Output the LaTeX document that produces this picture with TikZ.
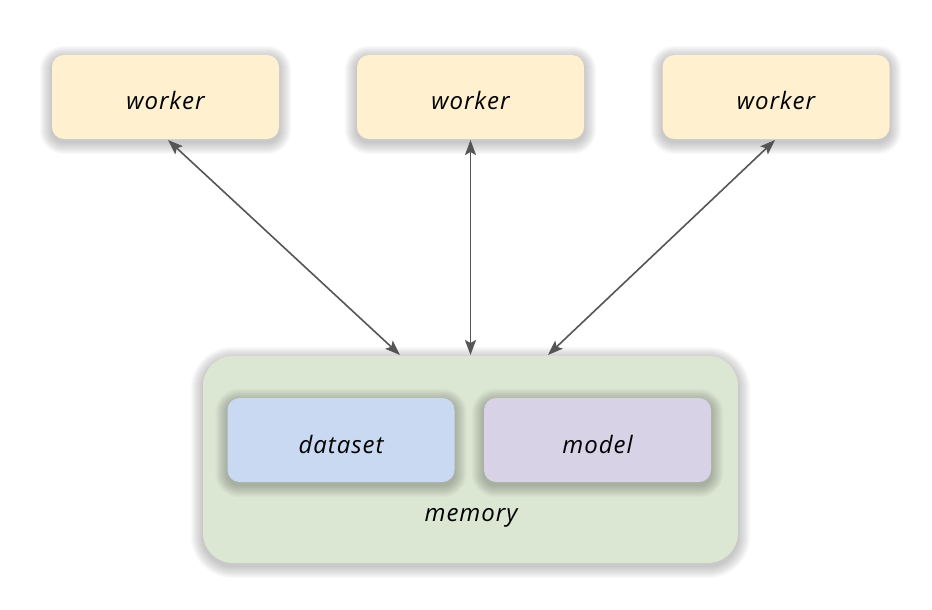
\documentclass[tikz,border=0pt]{standalone}
\usepackage{fontspec}
\newfontfamily\hand{Open Sans}[LetterSpace=4]
\usetikzlibrary{arrows.meta}
\definecolor{workerfill}{HTML}{FFF0D0}
\definecolor{datafill}{HTML}{C9D9F2}
\definecolor{modelfill}{HTML}{D8D2E6}
\definecolor{memfill}{HTML}{DCE7D3}
\definecolor{arrowcol}{HTML}{555555}
\newcommand{\softshadow}[2]{%
  \foreach \k in {1,...,12} {
    \fill[black, opacity=0.02, rounded corners=#2+\k*1pt]
      ([xshift=-\k*1pt, yshift=\k*1pt-3pt]#1.north west) rectangle
      ([xshift=\k*1pt, yshift=-\k*1pt-3pt]#1.south east);
  }}
\tikzset{
  box/.style={rounded corners=12pt, minimum width=227pt, minimum height=84pt, inner sep=0pt,
    font=\hand\fontsize{24}{28}\selectfont\itshape},
  lbl/.style={font=\hand\fontsize{24}{28}\selectfont\itshape},
  ghost/.style={minimum width=227pt, minimum height=84pt, inner sep=0pt},
  tip/.tip={Stealth[length=15pt,width=11pt,inset=3pt]},
  link/.style={draw=arrowcol, line width=1.6pt, tip-tip}
}
\begin{document}
\begin{tikzpicture}[x=1pt,y=-1pt]
\useasboundingbox (0,0) rectangle (932,610);
\path (470.5,459.5) node[ghost, minimum width=535pt, minimum height=207pt] (memg) {};
\softshadow{memg}{30pt}
\node[box, fill=memfill, minimum width=535pt, minimum height=207pt, rounded corners=30pt] (mem) at (470.5,459.5) {};
\node[lbl, anchor=base] (memlabel) at (471,521) {memory};
\path (341,440) node[ghost] (dg) {};
\path (597.5,440) node[ghost] (mg) {};
\softshadow{dg}{12pt}
\softshadow{mg}{12pt}
\node[box, fill=datafill, text height=27pt, text depth=0pt] (data) at (341,440) {dataset};
\node[box, fill=modelfill, text height=27pt, text depth=0pt] (model) at (597.5,440) {model};
\path (165.5,97) node[ghost] (g1) {};
\path (470.5,97) node[ghost] (g2) {};
\path (776,97) node[ghost] (g3) {};
\softshadow{g1}{12pt}
\softshadow{g2}{12pt}
\softshadow{g3}{12pt}
\node[box, fill=workerfill, text height=25pt, text depth=0pt] (w1) at (165.5,97) {worker};
\node[box, fill=workerfill, text height=25pt, text depth=0pt] (w2) at (470.5,97) {worker};
\node[box, fill=workerfill, text height=25pt, text depth=0pt] (w3) at (776,97) {worker};
\coordinate (m1) at (400,355);
\coordinate (m2) at (470.5,355);
\coordinate (m3) at (548,355);
\coordinate (t1) at (168,140);
\coordinate (t2) at (470.5,140);
\coordinate (t3) at (775,140);
\draw[link] (t1) -- (m1);
\draw[link] (t2) -- (m2);
\draw[link] (t3) -- (m3);
\end{tikzpicture}
\end{document}
